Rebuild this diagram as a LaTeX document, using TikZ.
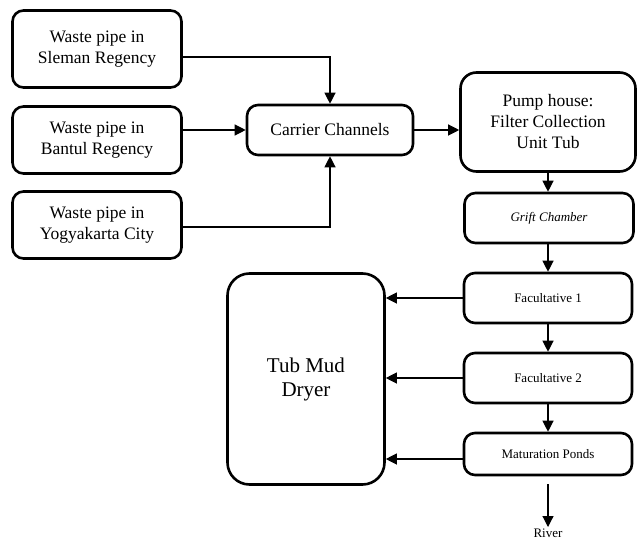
\documentclass[tikz,border=0pt]{standalone}
\usepackage{fontspec}
\setmainfont{Liberation Serif}
\usetikzlibrary{arrows.meta}
\begin{document}
\begin{tikzpicture}[x=1pt,y=-1pt,
  box/.style={draw, line width=2.6pt, rounded corners=11pt, align=center, inner sep=0pt},
  big/.style={font=\fontsize{17.5}{21}\selectfont},
  small/.style={font=\fontsize{13}{15}\selectfont},
  smallit/.style={font=\fontsize{13}{15}\selectfont\itshape},
  arr/.style={-{Triangle[length=11pt,width=11pt]}, line width=1.2pt}]
\useasboundingbox (0,0) rectangle (639,540);
\node[box, big, minimum width=169pt, minimum height=77pt] (sle) at (97,49) {Waste pipe in\\Sleman Regency};
\node[box, big, minimum width=169pt, minimum height=67pt] (ban) at (97,140) {Waste pipe in\\Bantul Regency};
\node[box, big, minimum width=169pt, minimum height=67pt] (yog) at (97,225) {Waste pipe in\\Yogyakarta City};
\node[box, big, minimum width=166pt, minimum height=50pt] (car) at (330,130) {Carrier Channels};
\node[box, big, minimum width=175pt, minimum height=99pt, rounded corners=16pt] (pump) at (548,122) {Pump house:\\Filter Collection\\Unit Tub};
\node[box, smallit, minimum width=169pt, minimum height=50pt] (gri) at (549,218) {Grift Chamber};
\node[box, small, minimum width=168pt, minimum height=50pt] (fa1) at (548,298) {Facultative 1};
\node[box, small, minimum width=168pt, minimum height=50pt] (fa2) at (548,378) {Facultative 2};
\node[box, small, minimum width=168pt, minimum height=42pt] (mat) at (548,454) {Maturation Ponds};
\node[box, minimum width=157pt, minimum height=211pt, rounded corners=22pt, font=\fontsize{21}{24}\selectfont] (dry) at (306,379) {Tub Mud\\Dryer};
\node[small, inner sep=0pt, anchor=north] (riv) at (548,529) {River};
\coordinate (rivtop) at (548,484);
\coordinate (rivend) at (548,527);
\draw[arr] (sle.east |- 0,57) -| (car.north);
\draw[arr] (ban.east |- car.west) -- (car.west);
\draw[arr] (yog.east |- 0,227) -| (car.south);
\draw[arr] (car.east) -- (pump.west |- car.east);
\draw[arr] (pump.south) -- (gri.north -| pump.south);
\draw[arr] (gri.south -| fa1.north) -- (fa1.north);
\draw[arr] (fa1.south) -- (fa2.north);
\draw[arr] (fa2.south) -- (mat.north);
\draw[arr] (rivtop) -- (rivend);
\draw[arr] (fa1.west) -- (dry.east |- fa1.west);
\draw[arr] (fa2.west) -- (dry.east |- fa2.west);
\draw[arr] (mat.west |- 0,459) -- (dry.east |- 0,459);
\end{tikzpicture}
\end{document}
